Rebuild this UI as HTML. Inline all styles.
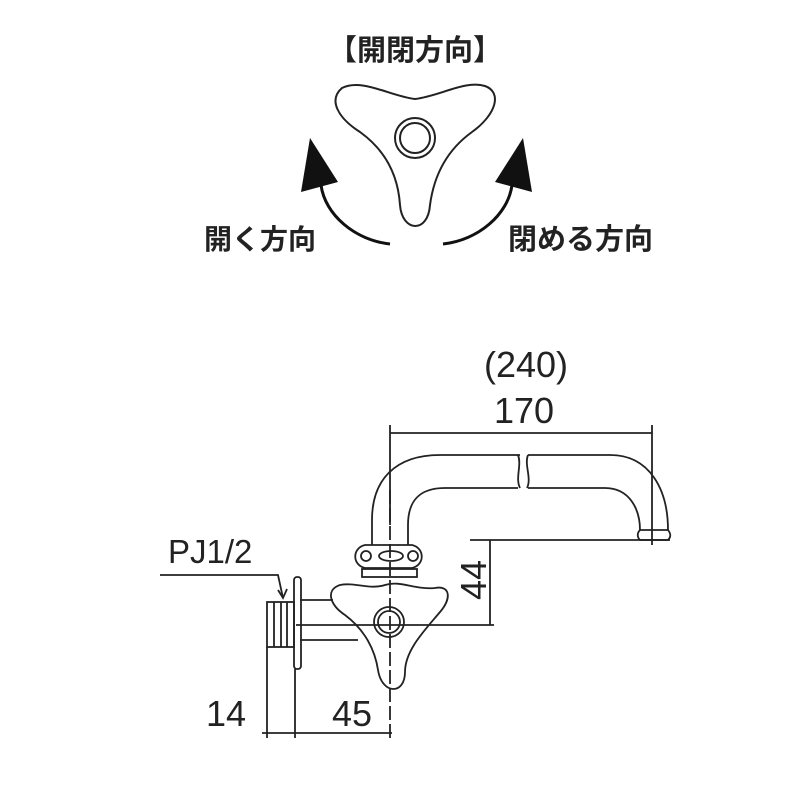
<!DOCTYPE html>
<html><head><meta charset="utf-8"><style>
html,body{margin:0;padding:0;background:#fff}
svg{display:block}
.t{font-family:"Liberation Sans","Noto Sans CJK JP",sans-serif}
</style></head><body>
<svg width="800" height="800" viewBox="0 0 800 800" xmlns="http://www.w3.org/2000/svg">
<rect width="800" height="800" fill="#fff"/>
<text class="t" x="415" y="60" font-size="29" font-weight="bold" text-anchor="middle" fill="#222">【開閉方向】</text>
<path d="M342,88 C328,100 338,118 360,132 C385,150 398,175 400,205 C402,232 428,234 430,205 C434,175 447,150 472,132 C497,114 502,92 485,86 C465,80 440,96 415,99 C390,96 362,78 342,88 Z" fill="none" stroke="#222" stroke-width="2"/>
<circle cx="415" cy="138" r="20" fill="none" stroke="#222" stroke-width="2"/>
<circle cx="415" cy="138" r="15" fill="none" stroke="#222" stroke-width="2"/>
<path d="M390,244 C355,240 325,215 321,185" fill="none" stroke="#111" stroke-width="3"/>
<polygon points="310,138 301,192 338,182" fill="#111"/>
<path d="M443,244 C478,240 508,215 512,185" fill="none" stroke="#111" stroke-width="3"/>
<polygon points="523,138 495,182 532,192" fill="#111"/>
<text class="t" x="204" y="249" font-size="28" font-weight="bold" fill="#222">開く方向</text>
<text class="t" x="508" y="249" font-size="29" font-weight="bold" fill="#222">閉める方向</text>

<text class="t" x="526" y="377" font-size="36" text-anchor="middle" fill="#222">(240)</text>
<text class="t" x="524" y="423" font-size="36" text-anchor="middle" fill="#222">170</text>
<text class="t" x="168" y="563" font-size="33" fill="#222">PJ1/2</text>
<text class="t" x="226" y="726" font-size="36" text-anchor="middle" fill="#222">14</text>
<text class="t" x="352" y="726" font-size="36" text-anchor="middle" fill="#222">45</text>
<text class="t" font-size="36" fill="#222" text-anchor="middle" transform="translate(486,580) rotate(-90)">44</text>

<g fill="none" stroke="#222" stroke-width="1.8">
<line x1="390" y1="433" x2="652" y2="433"/>
<line x1="390" y1="425" x2="390" y2="525"/>
<line x1="652" y1="425" x2="652" y2="545"/>
<path d="M372,545 L372,520 C372,480 395,455 440,455 L520,455"/>
<path d="M408,545 L408,525 C408,500 420,488 445,488 L518,488"/>
<path d="M528,455 L610,455 C650,455 668,490 668,530"/>
<path d="M528,488 L605,488 C630,488 640,510 640,530"/>
<path d="M518,455 C522,465 515,478 520,488"/>
<path d="M528,455 C524,465 532,478 527,488"/>
<path d="M640,530 L668,530 C672,535 670,538 668,540 L640,540 C637,537 637,533 640,530 Z"/>
<line x1="390" y1="490" x2="390" y2="738" stroke-dasharray="14 4"/>
<path d="M365,545 L412,545 C425,548 425,565 412,568 L365,568 C352,565 352,548 365,545 Z"/>
<ellipse cx="391" cy="556" rx="12" ry="5"/>
<circle cx="366" cy="556" r="5"/><circle cx="413" cy="556" r="5"/>
<rect x="362" y="569" width="55" height="8"/>
<path d="M340,585 C325,590 330,605 345,615 C365,630 375,650 378,670 C382,695 405,695 405,672 C405,650 425,630 440,612 C452,598 450,585 435,588 C415,590 400,580 385,585 C370,590 355,582 340,585 Z"/>
<circle cx="389" cy="622" r="15"/>
<circle cx="389" cy="622" r="11"/>
<path d="M300,600 L333,600 M300,640 L358,640"/>
<rect x="294" y="577" width="7" height="92" rx="3"/>
<rect x="267" y="602" width="27" height="45"/>
<line x1="274" y1="602" x2="274" y2="647"/><line x1="281" y1="602" x2="281" y2="647"/><line x1="287" y1="602" x2="287" y2="647"/>
<line x1="470" y1="540" x2="670" y2="540"/>
<line x1="296" y1="625" x2="494" y2="625"/>
<line x1="490" y1="540" x2="490" y2="625"/>
<line x1="267" y1="647" x2="267" y2="738"/>
<line x1="295" y1="669" x2="295" y2="738"/>
<line x1="262" y1="733" x2="392" y2="733"/>
<polyline points="160,575 278,575 283,598"/>
<polyline points="278,590 283,598 287,589"/>
</g>
</svg>
</body></html>
